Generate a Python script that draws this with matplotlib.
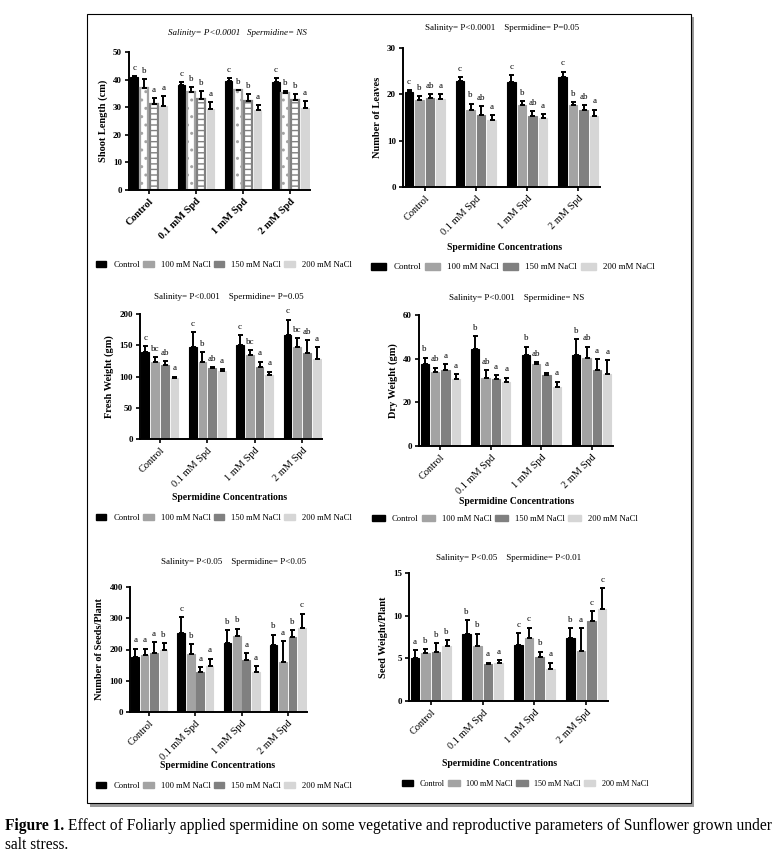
import numpy as np
import matplotlib
matplotlib.use('Agg')
import matplotlib.pyplot as plt
from matplotlib.patches import Patch, Rectangle

plt.rcParams['font.family'] = ['Liberation Serif', 'DejaVu Serif']

W, H = 781, 858

groups = ['Control', '0.1 mM Spd', '1 mM Spd', '2 mM Spd']
treatments = ['Control', '100 mM NaCl', '150 mM NaCl', '200 mM NaCl']
colors = ['#000000', '#a3a3a3', '#808080', '#d6d6d6']

# shoot length (cm)
shoot_mean = [[40.8, 36.9, 31.1, 30.6], [37.9, 35.4, 33.0, 29.4],
              [39.6, 36.1, 32.4, 29.1], [39.2, 35.0, 32.7, 29.7]]
shoot_err = [[0.4, 3.3, 2.1, 3.3], [1.3, 1.8, 2.7, 2.4],
             [0.8, 0.2, 2.5, 1.8], [1.2, 0.7, 2.2, 2.6]]
shoot_let = [['c', 'b', 'a', 'a'], ['c', 'b', 'b', 'a'],
             ['c', 'b', 'b', 'a'], ['c', 'b', 'b', 'a']]

# number of leaves
leaves_mean = [[20.6, 18.7, 19.3, 19.1], [22.9, 16.7, 15.6, 14.4],
               [22.7, 17.6, 15.4, 14.9], [23.7, 17.6, 16.7, 15.4]]
leaves_err = [[0.4, 1.0, 0.7, 0.9], [0.8, 1.3, 1.8, 1.1],
              [1.5, 1.0, 0.9, 0.8], [1.2, 0.8, 0.9, 1.3]]
leaves_let = [['c', 'b', 'ab', 'a'], ['c', 'b', 'ab', 'a'],
              ['c', 'b', 'ab', 'a'], ['c', 'b', 'ab', 'a']]

# fresh weight (gm)
fresh_mean = [[139, 123, 119, 98], [148, 123, 114, 109],
              [151, 134, 115, 103], [167, 148, 138, 128]]
fresh_err = [[10, 8, 6, 2], [23, 16, 1, 3],
             [15, 8, 9, 5], [24, 14, 20, 19]]
fresh_let = [['c', 'bc', 'ab', 'a'], ['c', 'b', 'ab', 'a'],
             ['c', 'bc', 'a', 'a'], ['c', 'bc', 'ab', 'a']]

# dry weight (gm)
dry_mean = [[37.4, 33.7, 34.7, 30.8], [44.3, 31.3, 30.5, 29.3],
            [41.5, 37.4, 32.5, 26.9], [41.7, 40.2, 35.0, 32.8]]
dry_err = [[3.1, 2.2, 2.7, 2.0], [6.2, 3.5, 2.0, 2.0],
           [4.0, 0.9, 1.1, 2.6], [7.2, 5.3, 4.8, 6.6]]
dry_let = [['b', 'ab', 'a', 'a'], ['b', 'ab', 'a', 'a'],
           ['b', 'ab', 'a', 'a'], ['b', 'ab', 'a', 'a']]

# number of seeds / plant
seeds_mean = [[176, 183, 189, 199], [253, 186, 128, 148],
              [221, 243, 166, 128], [215, 160, 240, 269]]
seeds_err = [[27, 20, 34, 22], [51, 32, 15, 23],
             [40, 24, 22, 18], [33, 66, 21, 46]]
seeds_let = [['a', 'a', 'a', 'b'], ['c', 'b', 'a', 'a'],
             ['b', 'b', 'a', 'a'], ['b', 'a', 'b', 'c']]

# seed weight / plant
sw_mean = [[5.0, 5.65, 5.7, 6.4], [7.9, 6.4, 4.3, 4.5],
           [6.6, 7.4, 5.1, 3.8], [7.4, 5.9, 9.4, 10.8]]
sw_err = [[1.0, 0.45, 1.1, 0.75], [1.6, 1.5, 0.2, 0.3],
          [1.4, 1.2, 0.7, 0.7], [1.1, 2.6, 1.1, 2.4]]
sw_let = [['a', 'b', 'b', 'b'], ['b', 'b', 'a', 'a'],
          ['c', 'c', 'b', 'a'], ['b', 'a', 'c', 'c']]


def px_axes(fig, l, r, t, b):
    return fig.add_axes([l / W, 1 - b / H, (r - l) / W, (b - t) / H])


def panel(ax, means, errs, letters, ymax, step, ylabel,
          hatched=False, boldx=False):
    means = np.array(means)
    errs = np.array(errs)
    bw = 0.165
    gap = 0.04
    x = np.arange(len(groups))
    for i in range(4):
        off = (i - 1.5) * (bw + gap)
        if hatched and i in (1, 2):
            ax.bar(x + off, means[:, i], bw, facecolor='white',
                   edgecolor=colors[i], linewidth=1.6,
                   hatch='..' if i == 1 else '---', zorder=2)
        else:
            ax.bar(x + off, means[:, i], bw, color=colors[i],
                   edgecolor=colors[i], linewidth=0.8, zorder=2)
        ax.errorbar(x + off, means[:, i],
                    yerr=[np.zeros(4), errs[:, i]], fmt='none',
                    ecolor='black', elinewidth=1.4, capsize=1.8,
                    capthick=1.4, zorder=3)
        for j in range(4):
            ax.annotate(letters[j][i], (x[j] + off, means[j, i] + errs[j, i]),
                        xytext=(0, 3), textcoords='offset points',
                        ha='center', va='bottom', fontsize=6.5)
    ax.set_xlim(-0.42, 3.42)
    ax.set_ylim(0, ymax)
    ax.set_yticks(np.arange(0, ymax + step / 2, step))
    ax.set_xticks(x)
    ax.set_xticklabels(groups, rotation=45, ha='right',
                       rotation_mode='anchor', fontsize=7.5,
                       fontweight='bold' if boldx else 'normal')
    for lab in ax.get_yticklabels():
        lab.set_fontweight('bold')
        lab.set_fontsize(6.5)
    ax.spines['top'].set_visible(False)
    ax.spines['right'].set_visible(False)
    ax.spines['left'].set_linewidth(1.4)
    ax.spines['bottom'].set_linewidth(1.4)
    ax.tick_params(direction='out', length=3, width=1.2, pad=2)
    ax.set_ylabel(ylabel, fontsize=7.5, fontweight='bold', labelpad=4)


fig = plt.figure(figsize=(W / 100, H / 100), dpi=100)

# page frame with shadow
fig.patches.append(Rectangle((90 / W, 1 - 807 / H), 604 / W, 790 / H,
                             transform=fig.transFigure, facecolor='#9a9a9a',
                             edgecolor='none', zorder=-2))
fig.patches.append(Rectangle((87 / W, 1 - 803 / H), 604 / W, 789 / H,
                             transform=fig.transFigure, facecolor='white',
                             edgecolor='black', linewidth=0.8, zorder=-1))

a1 = px_axes(fig, 129, 310, 52, 190)
panel(a1, shoot_mean, shoot_err, shoot_let, 50, 10, 'Shoot Length (cm)',
      hatched=True, boldx=True)
a2 = px_axes(fig, 403, 600, 48, 187)
panel(a2, leaves_mean, leaves_err, leaves_let, 30, 10, 'Number of Leaves')
a3 = px_axes(fig, 140, 322, 314, 439)
panel(a3, fresh_mean, fresh_err, fresh_let, 200, 50, 'Fresh Weight (gm)')
a4 = px_axes(fig, 419, 613, 315, 446)
panel(a4, dry_mean, dry_err, dry_let, 60, 20, 'Dry Weight (gm)')
a5 = px_axes(fig, 130, 307, 587, 712)
panel(a5, seeds_mean, seeds_err, seeds_let, 400, 100, 'Number of Seeds/Plant')
a6 = px_axes(fig, 409, 608, 573, 701)
panel(a6, sw_mean, sw_err, sw_let, 15, 5, 'Seed Weight/Plant')

# panel titles
titles = [(237, 33, 'Salinity= P<0.0001   Spermidine= NS', 'italic'),
          (502, 28, 'Salinity= P<0.0001    Spermidine= P=0.05', 'normal'),
          (229, 297, 'Salinity= P<0.001    Spermidine= P=0.05', 'normal'),
          (517, 298, 'Salinity= P<0.001    Spermidine= NS', 'normal'),
          (234, 562, 'Salinity= P<0.05    Spermidine= P<0.05', 'normal'),
          (509, 558, 'Salinity= P<0.05    Spermidine= P<0.01', 'normal')]
for xc, yc, s, st in titles:
    fig.text(xc / W, 1 - yc / H, s, ha='center', va='center', fontsize=6.5,
             style=st)

# x axis labels
for xc, yc in [(505, 247), (230, 498), (517, 502), (218, 765), (500, 763)]:
    fig.text(xc / W, 1 - yc / H, 'Spermidine Concentrations', ha='center',
             va='center', fontsize=7, fontweight='bold')

# legends
handles = [Patch(facecolor=c, edgecolor=c) for c in colors]
leg_spec = [(96, 265, 6.2, 1.2), (371, 267, 6.5, 1.7), (96, 518, 6.2, 1.2),
            (372, 519, 6.2, 1.5), (96, 786, 6.2, 1.2), (402, 784, 5.9, 1.4)]
for xl, yc, fs, hl in leg_spec:
    fig.legend(handles, treatments, loc='center left',
               bbox_to_anchor=(xl / W, 1 - yc / H), ncol=4, frameon=False,
               fontsize=fs, handlelength=hl, handleheight=0.8,
               handletextpad=0.8, columnspacing=0.4, borderpad=0,
               borderaxespad=0)

# caption
r = fig.canvas.get_renderer()
t1 = fig.text(5 / W, 1 - 826 / H, 'Figure 1.', fontsize=11.2, fontweight='bold',
              va='center')
bb = t1.get_window_extent(r)
fig.text((bb.x1 + 4) / W, 1 - 826 / H,
         'Effect of Foliarly applied spermidine on some vegetative and '
         'reproductive parameters of Sunflower grown under',
         fontsize=11.2, va='center')
fig.text(5 / W, 1 - 845 / H, 'salt stress.', fontsize=11.2, va='center')

fig.savefig('out.png', dpi=100)
